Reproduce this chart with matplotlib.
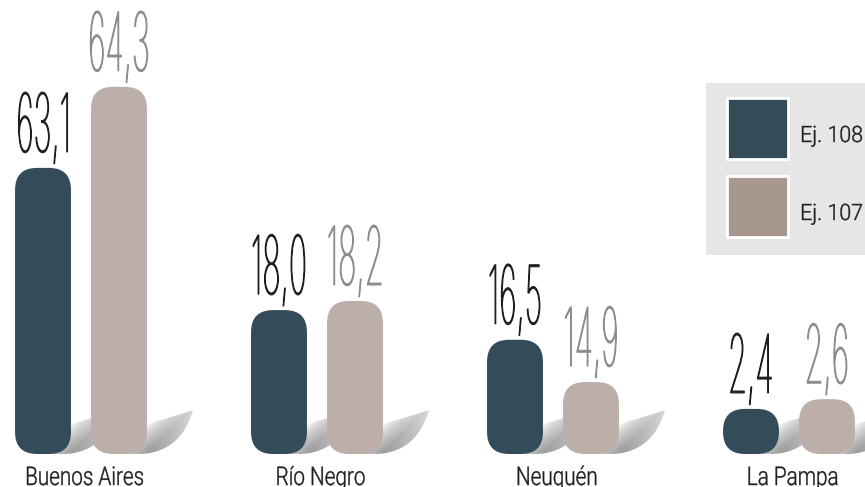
import matplotlib
matplotlib.use("Agg")
import matplotlib.pyplot as plt
import numpy as np
from matplotlib import font_manager as fm
from matplotlib.textpath import TextPath
from matplotlib.font_manager import FontProperties
from matplotlib.patches import PathPatch, FancyBboxPatch, Rectangle
from matplotlib.path import Path
from matplotlib.transforms import Affine2D

# ---------------- data ----------------
categories = ["Buenos Aires", "Río Negro", "Neuquén", "La Pampa"]
series_names = ["Ej. 108", "Ej. 107"]
values_108 = [63.1, 18.0, 16.5, 2.4]
values_107 = [64.3, 18.2, 14.9, 2.6]
# drawn bar lengths (the infographic is not to scale)
bar_len_108 = [50.1, 25.2, 20.0, 7.9]
bar_len_107 = [64.3, 26.8, 12.6, 9.6]

# ---------------- style ----------------
W, H = 865, 487
C_DARK = "#344c5a"
C_LIGHT = "#bcafaa"
C_LEG_LIGHT = "#a8978f"
C_TEXT = "#1e1e1e"
C_NUM_LIGHT = "#8c8c8c"


def _w(f):
    w = f.weight
    if isinstance(w, str):
        w = fm.weight_dict.get(w.lower(), 400)
    return int(w)


def pick_font(families, target):
    cands = [f for f in fm.fontManager.ttflist
             if f.name in families and f.style == "normal"
             and f.stretch in ("normal", 500, "medium")]
    if not cands:
        return FontProperties(family="DejaVu Sans")
    cands.sort(key=lambda f: (abs(_w(f) - target), families.index(f.name)))
    return FontProperties(fname=cands[0].fname)


num_prop = pick_font(["Roboto", "Lato", "Open Sans", "Inter", "Noto Sans", "DejaVu Sans"], 100)
lab_prop = pick_font(["Roboto", "Lato", "Open Sans"], 300)

fig = plt.figure(figsize=(W / 100, H / 100), dpi=100)
over = fig.add_axes([0, 0, 1, 1])
over.set_xlim(0, W)
over.set_ylim(H, 0)
over.axis("off")

base_px = 454
ax = fig.add_axes([0, (H - base_px) / H, 1, base_px / H])
ax.set_zorder(2)
ax.patch.set_alpha(0)
ax.axis("off")
ax.set_xlim(-81 / 236, (W - 81) / 236)
ax.set_ylim(0, 79.5)


def cap_height(prop):
    return TextPath((0, 0), "H", size=1, prop=prop).get_extents().height


def text_width(s, prop):
    return TextPath((0, 0), s, size=1, prop=prop).get_extents().width


def draw_text(s, x, y_base, cap_px, sx, prop, color, ha="center", lw=0.0, z=5):
    tp = TextPath((0, 0), s, size=1, prop=prop)
    k = cap_px / cap_height(prop)
    ext = tp.get_extents()
    if ha == "center":
        x0 = x - (ext.x0 + ext.width / 2) * k * sx
    else:
        x0 = x - ext.x0 * k * sx
    tr = Affine2D().scale(k * sx, -k).translate(x0, y_base) + over.transData
    pp = PathPatch(tp, transform=tr, fc=color, ec=color if lw > 0 else "none",
                   lw=lw, zorder=z, joinstyle="round")
    over.add_patch(pp)


# horizontal condensing factors (fonts are narrow in the reference)
cat_cap = 18.3
cat_sx = 116 / (text_width("Buenos Aires", lab_prop) * cat_cap / cap_height(lab_prop))
leg_cap = 16
leg_sx = 60 / (text_width("Ej. 108", lab_prop) * leg_cap / cap_height(lab_prop))
num_cap = 59
num_sx = 49 / (text_width("63,1", num_prop) * num_cap / cap_height(num_prop))

# ---------------- bars ----------------
x = np.arange(len(categories))
bw = 0.237
off = 0.161
bars_a = ax.bar(x - off, bar_len_108, width=bw, color=C_DARK)
bars_b = ax.bar(x + off, bar_len_107, width=bw, color=C_LIGHT)

fig.canvas.draw()
px_x = ax.bbox.width / (ax.get_xlim()[1] - ax.get_xlim()[0])
px_y = ax.bbox.height / (ax.get_ylim()[1] - ax.get_ylim()[0])
r_px = 22
rx = r_px / px_x
aspect = px_x / px_y


def bez(P0, P1, P2, t):
    P0, P1, P2 = map(np.asarray, (P0, P1, P2))
    return (((1 - t) ** 2)[:, None] * P0 + (2 * (1 - t) * t)[:, None] * P1
            + (t ** 2)[:, None] * P2)


def shadow(xr, base):
    # curled gradient shadow to the lower right of a bar (pixel coords)
    t = np.linspace(0, 1, 40)
    outer = bez([-6, 0], [34, -2], [46, -44], t)
    inner = bez([0, -30], [22, -36], [46, -44], t)
    pts = np.vstack([[-25, 0], outer, inner[::-1], [-25, -30]])
    pts = pts + np.array([xr, base])
    clip = PathPatch(Path(pts), transform=over.transData, fc="none", ec="none")
    x0, x1, y0, y1 = xr - 30, xr + 55, base - 55, base + 5
    gx, gy = np.meshgrid(np.linspace(x0, x1, 140), np.linspace(y0, y1, 100))
    d = (gx - xr) + (gy - base)
    s = np.clip((d + 30) / 30, 0, 1) ** 0.8
    fade = 1 - 0.6 * np.clip((gx - xr) / 46, 0, 1)
    v = 1 - 0.40 * s * fade
    rgb = np.dstack([v, v, v])
    im = over.imshow(rgb, extent=(x0, x1, y1, y0), origin="upper",
                     interpolation="bilinear", zorder=1)
    im.set_clip_path(clip)


for bars, vals, ncol in [(bars_a, values_108, C_TEXT),
                         (bars_b, values_107, C_NUM_LIGHT)]:
    for rect, v in zip(bars, vals):
        rect.set_visible(False)
        bx, bwid, bh = rect.get_x(), rect.get_width(), rect.get_height()
        fb = FancyBboxPatch((bx, 0), bwid, bh,
                            boxstyle=f"round,pad=0,rounding_size={rx}",
                            mutation_aspect=aspect, fc=rect.get_facecolor(),
                            ec="none", zorder=3)
        ax.add_patch(fb)
        xr_d, yb_d = ax.transData.transform((bx + bwid, 0))
        xc_d, yt_d = ax.transData.transform((bx + bwid / 2, bh))
        shadow(xr_d, H - yb_d)
        label = f"{v:.1f}".replace(".", ",")
        draw_text(label, xc_d, H - yt_d - 16, num_cap, num_sx, num_prop, ncol, lw=0.8)

# category labels
for xi, cat in zip(x, categories):
    xd, _ = ax.transData.transform((xi, 0))
    draw_text(cat, xd + 4, 485, cat_cap, cat_sx, lab_prop, C_TEXT, lw=0.3)

# ---------------- legend ----------------
over.add_patch(Rectangle((706, 83), 165, 172, fc="#e6e6e6", ec="none", zorder=2))
leg_colors = [C_DARK, C_LEG_LIGHT]
leg_y = [98, 176]
for name, col, yy in zip(series_names, leg_colors, leg_y):
    over.add_patch(Rectangle((727, yy), 61, 61, fc=col, ec="white", lw=2, zorder=3))
    draw_text(name, 802, yy + 44, leg_cap, leg_sx, lab_prop, C_TEXT, ha="left", lw=0.3)

fig.savefig("out.png", dpi=100)
